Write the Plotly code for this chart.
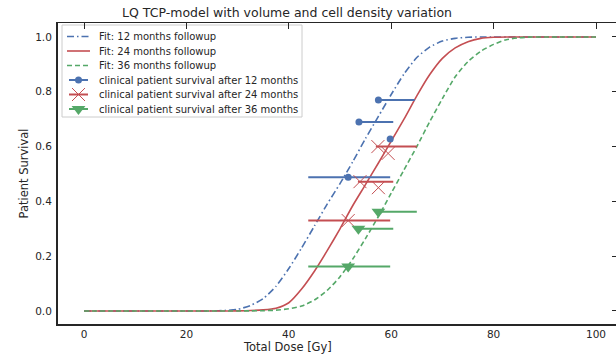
import plotly.graph_objects as go

# ---- data ----
dose = [0, 2.5, 5, 7.5, 10, 12.5, 15, 17.5, 20, 22.5, 25, 27.5, 30, 32.5, 35, 37.5, 40,
        42.5, 45, 47.5, 50, 52.5, 55, 57.5, 60, 62.5, 65, 67.5, 70, 72.5, 75, 77.5,
        80, 82.5, 85, 87.5, 90, 92.5, 95, 97.5, 100]

fit_12 = [0, 0, 0, 0, 0, 0, 0, 0, 0, 0, 0.0005, 0.002, 0.006, 0.02, 0.045, 0.09, 0.155,
          0.23, 0.31, 0.39, 0.465, 0.545, 0.63, 0.71, 0.79, 0.865, 0.925, 0.963, 0.985,
          0.995, 0.999, 1, 1, 1, 1, 1, 1, 1, 1, 1, 1]
fit_24 = [0, 0, 0, 0, 0, 0, 0, 0, 0, 0, 0, 0, 0.0005, 0.0015, 0.004, 0.01, 0.03,
          0.08, 0.145, 0.22, 0.3, 0.385, 0.462, 0.54, 0.62, 0.70, 0.785, 0.862, 0.922,
          0.96, 0.983, 0.995, 0.999, 1, 1, 1, 1, 1, 1, 1, 1]
fit_36 = [0, 0, 0, 0, 0, 0, 0, 0, 0, 0, 0, 0, 0, 0.0005, 0.001, 0.003, 0.008,
          0.018, 0.04, 0.075, 0.125, 0.19, 0.265, 0.345, 0.43, 0.515, 0.60, 0.69, 0.775,
          0.855, 0.91, 0.948, 0.973, 0.99, 0.997, 1, 1, 1, 1, 1, 1]

# clinical points: dose, survival, error-bar left end, error-bar right end
pts12_x = [57.5, 53.7, 59.8, 51.6]
pts12_y = [0.77, 0.69, 0.628, 0.488]
pts12_lo = [57.5, 53.5, 59.8, 43.8]
pts12_hi = [64.6, 60.4, 59.8, 59.8]

pts24_x = [57.4, 59.4, 53.9, 57.5, 51.6]
pts24_y = [0.60, 0.575, 0.472, 0.45, 0.33]
pts24_lo = [57.0, 59.4, 53.5, 57.5, 43.8]
pts24_hi = [65.0, 59.4, 60.4, 57.5, 59.8]

pts36_x = [57.5, 53.6, 51.6]
pts36_y = [0.362, 0.30, 0.162]
pts36_lo = [57.5, 53.5, 43.8]
pts36_hi = [65.0, 60.4, 59.8]

x_ticks = [0, 20, 40, 60, 80, 100]
y_ticks = [0.0, 0.2, 0.4, 0.6, 0.8, 1.0]
y_tick_text = ["0.0", "0.2", "0.4", "0.6", "0.8", "1.0"]

legend_labels = ["Fit: 12 months followup", "Fit: 24 months followup", "Fit: 36 months followup",
                 "clinical patient survival after 12 months",
                 "clinical patient survival after 24 months",
                 "clinical patient survival after 36 months"]

BLUE = "#4C72B0"
RED = "#C44E52"
GREEN = "#55A868"
INK = "#262626"
FONT = "DejaVu Sans"

W, H = 616, 358
L, R, T, B = 58, 0, 23, 34
XR = [(58 - 84) / 5.12, (616 - 84) / 5.12]
YR = [-0.0475, 1.051]

DASH12 = "7px,3px,1.5px,3px"
DASH36 = "5px,3px"

fig = go.Figure()

fig.add_trace(go.Scatter(x=dose, y=fit_12, mode="lines", name=legend_labels[0], showlegend=False,
                         line=dict(color=BLUE, width=1.6, dash=DASH12, shape="spline", smoothing=0.6)))
fig.add_trace(go.Scatter(x=dose, y=fit_24, mode="lines", name=legend_labels[1], showlegend=False,
                         line=dict(color=RED, width=1.6, shape="spline", smoothing=0.6)))
fig.add_trace(go.Scatter(x=dose, y=fit_36, mode="lines", name=legend_labels[2], showlegend=False,
                         line=dict(color=GREEN, width=1.6, dash=DASH36, shape="spline", smoothing=0.6)))


def pts_trace(xs, ys, lo, hi, color, symbol, size, name, line_w):
    return go.Scatter(
        x=xs, y=ys, mode="markers", name=name, showlegend=False,
        marker=dict(color=color, symbol=symbol, size=size,
                    line=dict(color=color, width=line_w)),
        error_x=dict(type="data", symmetric=False,
                     array=[h - x for h, x in zip(hi, xs)],
                     arrayminus=[x - l for l, x in zip(lo, xs)],
                     color=color, thickness=2, width=0),
    )


MARKERS = [("circle", 7, 0, BLUE), ("x-thin-open", 13, 1, RED), ("triangle-down", 12, 0, GREEN)]
fig.add_trace(pts_trace(pts12_x, pts12_y, pts12_lo, pts12_hi, BLUE, "circle", 7, legend_labels[3], 0))
fig.add_trace(pts_trace(pts24_x, pts24_y, pts24_lo, pts24_hi, RED, "x-thin-open", 13, legend_labels[4], 1))
fig.add_trace(pts_trace(pts36_x, pts36_y, pts36_lo, pts36_hi, GREEN, "triangle-down", 12, legend_labels[5], 0))

# helper trace for the mirrored (top / right) axes
fig.add_trace(go.Scatter(x=[None], y=[None], xaxis="x2", yaxis="y2", showlegend=False,
                         hoverinfo="skip"))

# ---- hand-drawn legend (pixel coordinates on an overlay axis) ----
LEG_BOX = (62, 25, 302, 117)
ROW_Y = [36.5, 51, 65.5, 80, 94.5, 109]
SAMPLE_X0, SAMPLE_X1, MARK_X, TEXT_X = 67, 90, 78.5, 97

shapes = [dict(type="rect", xref="x3", yref="y3", x0=LEG_BOX[0], y0=LEG_BOX[1], x1=LEG_BOX[2], y1=LEG_BOX[3],
               fillcolor="rgba(255,255,255,0.85)", line=dict(color="#cccccc", width=1), layer="below")]
line_styles = [(BLUE, DASH12), (RED, "solid"), (GREEN, DASH36)]
for i, (c, d) in enumerate(line_styles):
    shapes.append(dict(type="line", xref="x3", yref="y3", x0=SAMPLE_X0, x1=SAMPLE_X1,
                       y0=ROW_Y[i], y1=ROW_Y[i], line=dict(color=c, width=1.6, dash=d), layer="below"))
for i, (_, _, _, c) in enumerate(MARKERS):
    shapes.append(dict(type="line", xref="x3", yref="y3", x0=SAMPLE_X0 + 2, x1=SAMPLE_X1 - 2,
                       y0=ROW_Y[3 + i], y1=ROW_Y[3 + i], line=dict(color=c, width=2), layer="below"))

for i, (sym, size, lw, c) in enumerate(MARKERS):
    fig.add_trace(go.Scatter(x=[MARK_X], y=[ROW_Y[3 + i]], xaxis="x3", yaxis="y3", mode="markers",
                             showlegend=False, hoverinfo="skip",
                             marker=dict(symbol=sym, size=size, color=c, line=dict(color=c, width=lw))))

annotations = [
    dict(text="Total Dose [Gy]", xref="paper", yref="paper",
         x=(287 - L) / (W - L), y=(H - B - 347) / (H - T - B),
         xanchor="center", yanchor="middle", showarrow=False,
         font=dict(family=FONT, size=11.5, color=INK)),
    dict(text="Patient Survival", xref="paper", yref="paper",
         x=(23 - L) / (W - L), y=0.5, textangle=-90,
         xanchor="center", yanchor="middle", showarrow=False,
         font=dict(family=FONT, size=11.5, color=INK)),
]
for i, lab in enumerate(legend_labels):
    annotations.append(dict(text=lab, xref="x3", yref="y3", x=TEXT_X, y=ROW_Y[i],
                            xanchor="left", yanchor="middle", showarrow=False,
                            font=dict(family=FONT, size=10, color=INK)))

fig.update_layout(
    width=W, height=H,
    margin=dict(l=L, r=R, t=T, b=B, pad=0),
    paper_bgcolor="white", plot_bgcolor="white",
    font=dict(family=FONT, color=INK, size=10.5),
    showlegend=False,
    title=dict(text="LQ TCP-model with volume and cell density variation",
               font=dict(family=FONT, size=12.5, color=INK),
               xref="paper", x=(287 - L) / (W - L), xanchor="center",
               yref="container", y=1 - 12.5 / H, yanchor="middle"),
    xaxis=dict(range=XR, tickvals=x_ticks, ticks="", showgrid=False, zeroline=False,
               showline=True, linecolor=INK, linewidth=2,
               tickfont=dict(family=FONT, size=10.5, color=INK), ticklabelstandoff=-1),
    yaxis=dict(range=YR, tickvals=y_ticks, ticktext=y_tick_text, ticks="", showgrid=False,
               zeroline=False, showline=True, linecolor=INK, linewidth=2,
               tickfont=dict(family=FONT, size=10.5, color=INK), ticklabelstandoff=2),
    xaxis2=dict(range=XR, overlaying="x", side="top", anchor="y2", tickvals=x_ticks,
                ticks="inside", ticklen=6, tickwidth=1.2, tickcolor=INK,
                showticklabels=False, showgrid=False, zeroline=False,
                showline=True, linecolor=INK, linewidth=1),
    yaxis2=dict(range=YR, overlaying="y", side="right", anchor="x2", tickvals=y_ticks,
                ticks="inside", ticklen=4, tickwidth=1.2, tickcolor=INK,
                showticklabels=False, showgrid=False, zeroline=False, showline=False),
    xaxis3=dict(range=[L, W - R], overlaying="x", anchor="y3", visible=False, fixedrange=True),
    yaxis3=dict(range=[H - B, T], overlaying="y", anchor="x3", visible=False, fixedrange=True),
    shapes=shapes,
    annotations=annotations,
)

fig.write_html("out.html")
